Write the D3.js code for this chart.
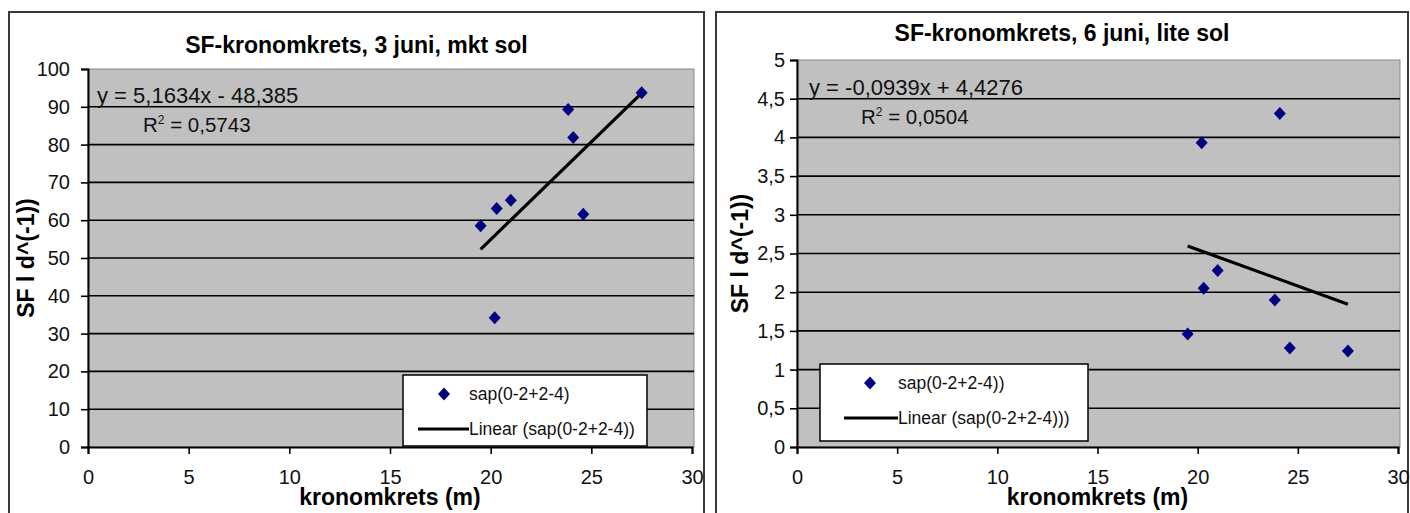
<!DOCTYPE html>
<html>
<head>
<meta charset="utf-8">
<script src="https://cdn.jsdelivr.net/npm/d3@7"></script>
<style>
  body { margin: 0; background: #fff; }
  svg { display: block; font-family: "Liberation Sans", Arial, sans-serif; }
</style>
</head>
<body>
<script>
// kronomkrets (m) for the eight trees, same in both charts
var kronomkrets = [19.5, 20.2, 20.3, 21.0, 23.85, 24.1, 24.6, 27.5];
// SF values, 3 juni (mkt sol)
var sfSun = [58.5, 34.2, 63.1, 65.3, 89.3, 81.9, 61.6, 93.7];
// SF values, 6 juni (lite sol)
var sfShade = [1.46, 3.93, 2.05, 2.28, 1.90, 4.31, 1.28, 1.24];

var xTicks = [0, 5, 10, 15, 20, 25, 30];
var yTicksSun = [0, 10, 20, 30, 40, 50, 60, 70, 80, 90, 100];
var yTicksShade = [0, 0.5, 1, 1.5, 2, 2.5, 3, 3.5, 4, 4.5, 5];

// trendline coefficients as printed on the charts
var fitSun = {slope: 5.1634, intercept: -48.385, eq: "y = 5,1634x - 48,385", r2: "0,5743"};
var fitShade = {slope: -0.0939, intercept: 4.4276, eq: "y = -0,0939x + 4,4276", r2: "0,0504"};

var svg = d3.select("body").append("svg")
    .attr("width", 1410)
    .attr("height", 513);

function comma(d){ return String(d).replace(".", ","); }

function drawChart(cfg){
    var g = svg.append("g");

    // outer chart frame
    g.append("rect")
        .attr("x", cfg.frame[0]).attr("y", cfg.frame[1])
        .attr("width", cfg.frame[2]).attr("height", cfg.frame[3])
        .attr("fill", "#fff")
        .attr("stroke", "#3a3a3a")
        .attr("stroke-width", 2);

    var x = d3.scaleLinear().domain([0, 30]).range([cfg.left, cfg.right]);
    var y = d3.scaleLinear().domain([0, d3.max(cfg.yTicks)]).range([cfg.bottom, cfg.top]);

    // plot area
    g.append("rect")
        .attr("x", cfg.left).attr("y", cfg.top)
        .attr("width", cfg.right - cfg.left + 2)
        .attr("height", cfg.bottom - cfg.top)
        .attr("fill", "#c0c0c0")
        .attr("stroke", "#8a8a8a")
        .attr("stroke-width", 1);

    // gridlines
    g.selectAll(".grid")
        .data(cfg.yTicks.slice(1, -1))
        .enter().append("line")
        .attr("x1", cfg.left).attr("x2", cfg.right + 2)
        .attr("y1", function(d){ return y(d); })
        .attr("y2", function(d){ return y(d); })
        .attr("stroke", "#000")
        .attr("stroke-width", 1.6);

    var yAxis = g.append("g")
        .attr("transform", "translate(" + cfg.left + ",0)")
        .call(d3.axisLeft(y).tickValues(cfg.yTicks).tickFormat(comma).tickSize(7).tickPadding(cfg.yPad));
    var xAxis = g.append("g")
        .attr("transform", "translate(0," + cfg.bottom + ")")
        .call(d3.axisBottom(x).tickValues(xTicks).tickSize(7).tickPadding(16));

    [yAxis, xAxis].forEach(function(a){
        a.select(".domain").attr("stroke", "#000").attr("stroke-width", 2);
        a.selectAll(".tick line").attr("stroke", "#000").attr("stroke-width", 1.6);
        a.selectAll("text")
            .attr("font-size", 20)
            .attr("font-family", "Liberation Sans, Arial, sans-serif")
            .attr("fill", "#111");
    });

    // trendline from min to max x
    var xmin = d3.min(kronomkrets), xmax = d3.max(kronomkrets);
    var f = cfg.fit;
    g.append("line")
        .attr("x1", x(xmin)).attr("y1", y(f.slope * xmin + f.intercept))
        .attr("x2", x(xmax)).attr("y2", y(f.slope * xmax + f.intercept))
        .attr("stroke", "#000")
        .attr("stroke-width", 3.2);

    // points
    var diamond = "M0,-6.5L6,0L0,6.5L-6,0Z";
    g.selectAll(".pt")
        .data(kronomkrets.map(function(k, i){ return [k, cfg.values[i]]; }))
        .enter().append("path")
        .attr("d", diamond)
        .attr("transform", function(d){ return "translate(" + x(d[0]) + "," + y(d[1]) + ")"; })
        .attr("fill", "#000080");

    // equation labels
    g.append("text")
        .attr("x", cfg.eqX).attr("y", cfg.eqY)
        .attr("font-size", 22)
        .attr("fill", "#111")
        .text(f.eq);
    var r = g.append("text")
        .attr("x", cfg.r2X).attr("y", cfg.eqY + 29)
        .attr("font-size", 20.5)
        .attr("fill", "#111");
    r.append("tspan").text("R");
    r.append("tspan").attr("font-size", 12).attr("dy", -8).text("2");
    r.append("tspan").attr("dy", 8).text(" = " + f.r2);

    // title
    g.append("text")
        .attr("x", (cfg.frame[0] + cfg.frame[0] + cfg.frame[2]) / 2)
        .attr("y", cfg.titleY)
        .attr("text-anchor", "middle")
        .attr("font-size", 23)
        .attr("font-weight", "bold")
        .text(cfg.title);

    // axis titles
    g.append("text")
        .attr("x", (cfg.left + cfg.right) / 2)
        .attr("y", 505)
        .attr("text-anchor", "middle")
        .attr("font-size", 23)
        .attr("font-weight", "bold")
        .text(cfg.xLabel);
    g.append("text")
        .attr("transform", "translate(" + cfg.yLabelX + "," + (cfg.top + cfg.bottom) / 2 + ") rotate(-90)")
        .attr("text-anchor", "middle")
        .attr("font-size", 23)
        .attr("font-weight", "bold")
        .text("SF l d^(-1))");

    // legend
    var lg = cfg.legend;
    g.append("rect")
        .attr("x", lg.x).attr("y", lg.y)
        .attr("width", lg.w).attr("height", lg.h)
        .attr("fill", "#fff")
        .attr("stroke", "#000")
        .attr("stroke-width", 1.5);
    g.append("path")
        .attr("d", diamond)
        .attr("transform", "translate(" + lg.markX + "," + (lg.y + 19) + ")")
        .attr("fill", "#000080");
    g.append("text")
        .attr("x", lg.textX).attr("y", lg.y + 25)
        .attr("font-size", 17.5)
        .attr("fill", "#111")
        .text(lg.series);
    g.append("line")
        .attr("x1", lg.lineX).attr("x2", lg.textX)
        .attr("y1", lg.y + 54).attr("y2", lg.y + 54)
        .attr("stroke", "#000")
        .attr("stroke-width", 3.2);
    g.append("text")
        .attr("x", lg.textX).attr("y", lg.y + 60)
        .attr("font-size", 17.5)
        .attr("fill", "#111")
        .text(lg.trend);
}

drawChart({
    frame: [9, 12, 695, 520],
    left: 88, right: 692, top: 69, bottom: 447,
    yTicks: yTicksSun, yPad: 11,
    values: sfSun, fit: fitSun,
    title: "SF-kronomkrets, 3 juni, mkt sol", titleY: 53,
    xLabel: "kronomkrets (m)", yLabelX: 34,
    eqX: 97, eqY: 103, r2X: 143,
    legend: {x: 403, y: 375, w: 244, h: 71, markX: 444, textX: 469, lineX: 418,
             series: "sap(0-2+2-4)", trend: "Linear (sap(0-2+2-4))"}
});

drawChart({
    frame: [716, 12, 692, 520],
    left: 797, right: 1398, top: 60, bottom: 447,
    yTicks: yTicksShade, yPad: 5,
    values: sfShade, fit: fitShade,
    title: "SF-kronomkrets, 6 juni, lite sol", titleY: 41,
    xLabel: "kronomkrets (m)", yLabelX: 748,
    eqX: 809, eqY: 95, r2X: 861,
    legend: {x: 820, y: 364, w: 268, h: 77, markX: 870, textX: 898, lineX: 844,
             series: "sap(0-2+2-4))", trend: "Linear (sap(0-2+2-4)))"}
});
</script>
</body>
</html>
